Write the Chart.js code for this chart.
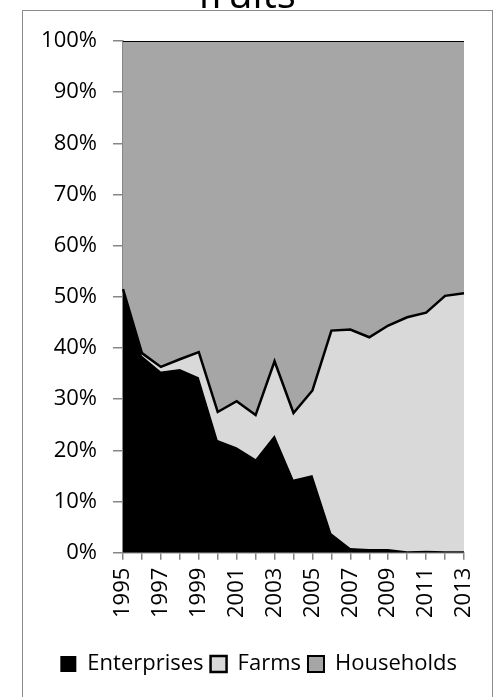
<!DOCTYPE html>
<html>
<head>
<meta charset="utf-8">
<script src="https://cdn.jsdelivr.net/npm/chart.js@4/dist/chart.umd.min.js"></script>
<style>
  html, body { margin: 0; padding: 0; background: #fff; }
  #wrap { position: relative; width: 494px; height: 697px; overflow: hidden; }
  #frame { position: absolute; left: 22px; top: 10px; width: 469px; height: 720px; border: 1.5px solid #8c8c8c; }
  #chart { position: absolute; left: 0; top: 0; }
</style>
</head>
<body>
<div id="wrap">
  <div id="frame"></div>
  <canvas id="chart" width="494" height="697"></canvas>
</div>
<script>
// years on the x axis
const years = ["1995","1996","1997","1998","1999","2000","2001","2002","2003","2004",
               "2005","2006","2007","2008","2009","2010","2011","2012","2013"];

// shares in percent
const enterprises = [51.3, 38.5, 35.4, 35.9, 34.3, 22.0, 20.6, 18.3, 23.0, 14.3,
                     15.2, 3.8, 0.9, 0.7, 0.7, 0.3, 0.4, 0.3, 0.3];
const farms       = [0.2, 0.5, 0.9, 1.9, 4.9, 5.5, 9.0, 8.6, 14.4, 13.0,
                     16.5, 39.6, 42.7, 41.4, 43.7, 45.7, 46.5, 49.9, 50.4];
const households  = [48.5, 61.0, 63.7, 62.2, 60.8, 72.5, 70.4, 73.1, 62.6, 72.7,
                     68.3, 56.6, 56.4, 57.9, 55.6, 54.0, 53.1, 49.8, 49.3];

const yTicks = [0, 10, 20, 30, 40, 50, 60, 70, 80, 90, 100];

const FONT = "'Open Sans', 'Liberation Sans', sans-serif";
const axisGray = '#868686';

const ctx = document.getElementById('chart').getContext('2d');
new Chart(ctx, {
    type: 'line',
    data: {
        labels: years,
        datasets: [
            { label: 'Enterprises', data: enterprises, backgroundColor: '#000000', borderColor: '#000000',
              borderWidth: 0, fill: 'origin', pointRadius: 0, tension: 0 },
            { label: 'Farms', data: farms, backgroundColor: '#d9d9d9', borderColor: '#000000',
              borderWidth: 2.5, fill: '-1', pointRadius: 0, tension: 0 },
            { label: 'Households', data: households, backgroundColor: '#a6a6a6', borderColor: '#000000',
              borderWidth: 2, fill: '-1', pointRadius: 0, tension: 0 }
        ]
    },
    options: {
        responsive: false,
        animation: false,
        devicePixelRatio: 1,
        // equal side padding keeps the title centred over the frame
        layout: { padding: { left: 30, right: 30, top: 0, bottom: 12 } },
        plugins: {
            title: {
                display: true,
                text: 'fruits',
                color: '#000',
                font: { family: FONT, size: 40, weight: 'normal', lineHeight: 1.2 },
                padding: { top: -27, bottom: 20 }
            },
            legend: {
                position: 'bottom',
                align: 'end',
                labels: {
                    color: '#000',
                    font: { family: FONT, size: 22 },
                    boxWidth: 16,
                    boxHeight: 16,
                    padding: 7
                }
            },
            tooltip: { enabled: false }
        },
        scales: {
            x: {
                offset: false,
                afterFit: function (scale) {
                    scale.height += 20;
                    scale.paddingLeft = 0;
                    scale.paddingRight = 0;
                },
                grid: { drawOnChartArea: false, drawTicks: true, tickLength: 7, color: axisGray, lineWidth: 1.5 },
                border: { display: true, color: axisGray, width: 1.5 },
                ticks: {
                    autoSkip: false,
                    minRotation: 90,
                    maxRotation: 90,
                    padding: 8,
                    color: '#000',
                    font: { family: FONT, size: 22 },
                    callback: function (val, i) { return i % 2 === 0 ? years[i] : ''; }
                }
            },
            y: {
                stacked: true,
                min: 0,
                max: 100,
                afterFit: function (scale) { scale.width = 93; },
                afterBuildTicks: function (scale) { scale.ticks = yTicks.map(v => ({ value: v })); },
                grid: { drawOnChartArea: false, drawTicks: true, tickLength: 10, color: axisGray, lineWidth: 1.5 },
                border: { display: true, color: axisGray, width: 1.5 },
                ticks: {
                    padding: 16,
                    color: '#000',
                    font: { family: FONT, size: 22 },
                    callback: function (v) { return v + '%'; }
                }
            }
        }
    }
});
</script>
</body>
</html>
